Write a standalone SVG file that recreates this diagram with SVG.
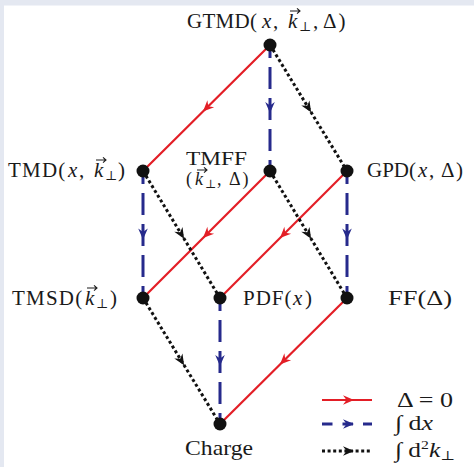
<svg xmlns="http://www.w3.org/2000/svg" width="474" height="467" viewBox="0 0 474 467">
<style>
.lbl{font-family:"Liberation Serif","DejaVu Serif",serif;font-size:21px;fill:#1a1a1a}
.sm{font-size:18px}
.i{font-style:italic}
.sub{font-size:13px}
.red{stroke:#e31e26;stroke-width:2.2;fill:none}
.blue{stroke:#262a8c;stroke-width:3;stroke-dasharray:22 9;stroke-dashoffset:9;fill:none}
.dot{stroke:#111;stroke-width:3;stroke-dasharray:3 2.6;fill:none}
.node{fill:#111}
</style>
<defs>
<marker id="ar" markerUnits="userSpaceOnUse" viewBox="-12 -6 13 12" markerWidth="13" markerHeight="12" refX="-5" refY="0" orient="auto" overflow="visible"><path d="M0,0 L-11,-4.8 L-7.5,0 L-11,4.8 Z" fill="#e31e26"/></marker>
<marker id="ab" markerUnits="userSpaceOnUse" viewBox="-12 -6 13 12" markerWidth="13" markerHeight="12" refX="-5" refY="0" orient="auto" overflow="visible"><path d="M0,0 L-11,-4.8 L-7.5,0 L-11,4.8 Z" fill="#262a8c"/></marker>
<marker id="ak" markerUnits="userSpaceOnUse" viewBox="-12 -6 13 12" markerWidth="13" markerHeight="12" refX="-5" refY="0" orient="auto" overflow="visible"><path d="M0,0 L-11,-4.8 L-7.5,0 L-11,4.8 Z" fill="#111"/></marker>
<path id="vec" d="M0,0 H9.6 M7,-2.6 L10,0 L7,2.6" fill="none" stroke="#1a1a1a" stroke-width="1.1"/>
</defs>
<rect x="0" y="0" width="474" height="467" fill="#ffffff"/>
<rect x="0" y="0" width="474" height="5.5" fill="#e4e8f1"/>
<rect x="0" y="0" width="4" height="467" fill="#e4e8f1"/>

<g id="connectors">
<path class="red" marker-mid="url(#ar)" d="M270,45 L206.5,108 L143,171"/>
<path class="red" marker-mid="url(#ar)" d="M270,171 L206.5,234.5 L143,298"/>
<path class="red" marker-mid="url(#ar)" d="M347,171 L283.5,234.5 L220,298"/>
<path class="red" marker-mid="url(#ar)" d="M347,298 L283.5,361 L220,424"/>
<path class="blue" marker-mid="url(#ab)" d="M270,45 L270,108 L270,171"/>
<path class="blue" marker-mid="url(#ab)" d="M143,171 L143,234.5 L143,298"/>
<path class="blue" marker-mid="url(#ab)" d="M347,171 L347,234.5 L347,298"/>
<path class="blue" marker-mid="url(#ab)" d="M220,298 L220,361 L220,424"/>
<path class="dot" marker-mid="url(#ak)" d="M270,45 L308.5,108 L347,171"/>
<path class="dot" marker-mid="url(#ak)" d="M143,171 L181.5,234.5 L220,298"/>
<path class="dot" marker-mid="url(#ak)" d="M270,171 L308.5,234.5 L347,298"/>
<path class="dot" marker-mid="url(#ak)" d="M143,298 L181.5,361 L220,424"/>
</g>

<g id="GTMD"><circle class="node" cx="270" cy="45" r="6.5"/>
<text class="lbl" y="28"><tspan x="187" style="letter-spacing:0.3px">GTMD(</tspan><tspan class="i" x="262">x</tspan><tspan x="273">,</tspan><tspan class="i" x="288">k</tspan><tspan class="sub" x="299" y="31">⊥</tspan><tspan x="313" y="28">,</tspan><tspan x="323" style="letter-spacing:2px">Δ)</tspan></text>
<use href="#vec" x="290" y="11"/></g>

<g id="TMD"><circle class="node" cx="143" cy="171" r="6.5"/>
<text class="lbl" y="177"><tspan x="8" style="letter-spacing:1.2px">TMD(</tspan><tspan class="i" x="68">x</tspan><tspan x="79">,</tspan><tspan class="i" x="94">k</tspan><tspan class="sub" x="105" y="180">⊥</tspan><tspan x="118" y="177">)</tspan></text>
<use href="#vec" x="96" y="160"/></g>

<g id="TMFF"><circle class="node" cx="270" cy="171" r="6.5"/>
<text class="lbl sm" x="186" y="164.5" textLength="61" lengthAdjust="spacingAndGlyphs">TMFF</text>
<text class="lbl sm" y="185"><tspan x="186">(</tspan><tspan class="i" x="195">k</tspan><tspan class="sub" style="font-size:12px" x="205" y="188">⊥</tspan><tspan x="217" y="185">,</tspan><tspan x="229" style="letter-spacing:2px">Δ)</tspan></text>
<use href="#vec" x="197" y="170"/></g>

<g id="GPD"><circle class="node" cx="347" cy="171" r="6.5"/>
<text class="lbl" y="177"><tspan x="367">GPD(</tspan><tspan class="i" x="418">x</tspan><tspan x="429">,</tspan><tspan x="441" style="letter-spacing:1.5px">Δ)</tspan></text></g>

<g id="TMSD"><circle class="node" cx="143" cy="298" r="6.5"/>
<text class="lbl" y="305"><tspan x="12" style="letter-spacing:1.2px">TMSD(</tspan><tspan class="i" x="85">k</tspan><tspan class="sub" x="96" y="308">⊥</tspan><tspan x="110" y="305">)</tspan></text>
<use href="#vec" x="87" y="288"/></g>

<g id="PDF"><circle class="node" cx="220" cy="298" r="6.5"/>
<text class="lbl" y="305"><tspan x="243" style="letter-spacing:1px">PDF(</tspan><tspan class="i" x="293">x</tspan><tspan x="305">)</tspan></text></g>

<g id="FF"><circle class="node" cx="347" cy="298" r="6.5"/>
<text class="lbl" x="388" y="305" textLength="64" lengthAdjust="spacingAndGlyphs">FF(Δ)</text></g>

<g id="Charge"><circle class="node" cx="220" cy="424" r="6.5"/>
<text class="lbl" x="185" y="455" textLength="68" lengthAdjust="spacingAndGlyphs">Charge</text></g>

<g id="legend">
<path class="red" marker-mid="url(#ar)" d="M322,400 L349,400 L372,400"/>
<path class="blue" style="stroke-dasharray:10.5 10;stroke-dashoffset:0" marker-mid="url(#ab)" d="M322,424 L349,424 L372,424"/>
<path class="dot" marker-mid="url(#ak)" d="M322,451 L349,451 L372,451"/>
<text class="lbl" x="397" y="407" textLength="56" lengthAdjust="spacingAndGlyphs">Δ = 0</text>
<text class="lbl" x="395" y="430" textLength="38" lengthAdjust="spacingAndGlyphs">∫ d<tspan class="i">x</tspan></text>
<text class="lbl" x="395" y="457" textLength="60" lengthAdjust="spacingAndGlyphs">∫ d<tspan class="sub" dy="-8">2</tspan><tspan class="i" dy="8">k</tspan><tspan class="sub" dy="3">⊥</tspan></text>
</g>
</svg>
